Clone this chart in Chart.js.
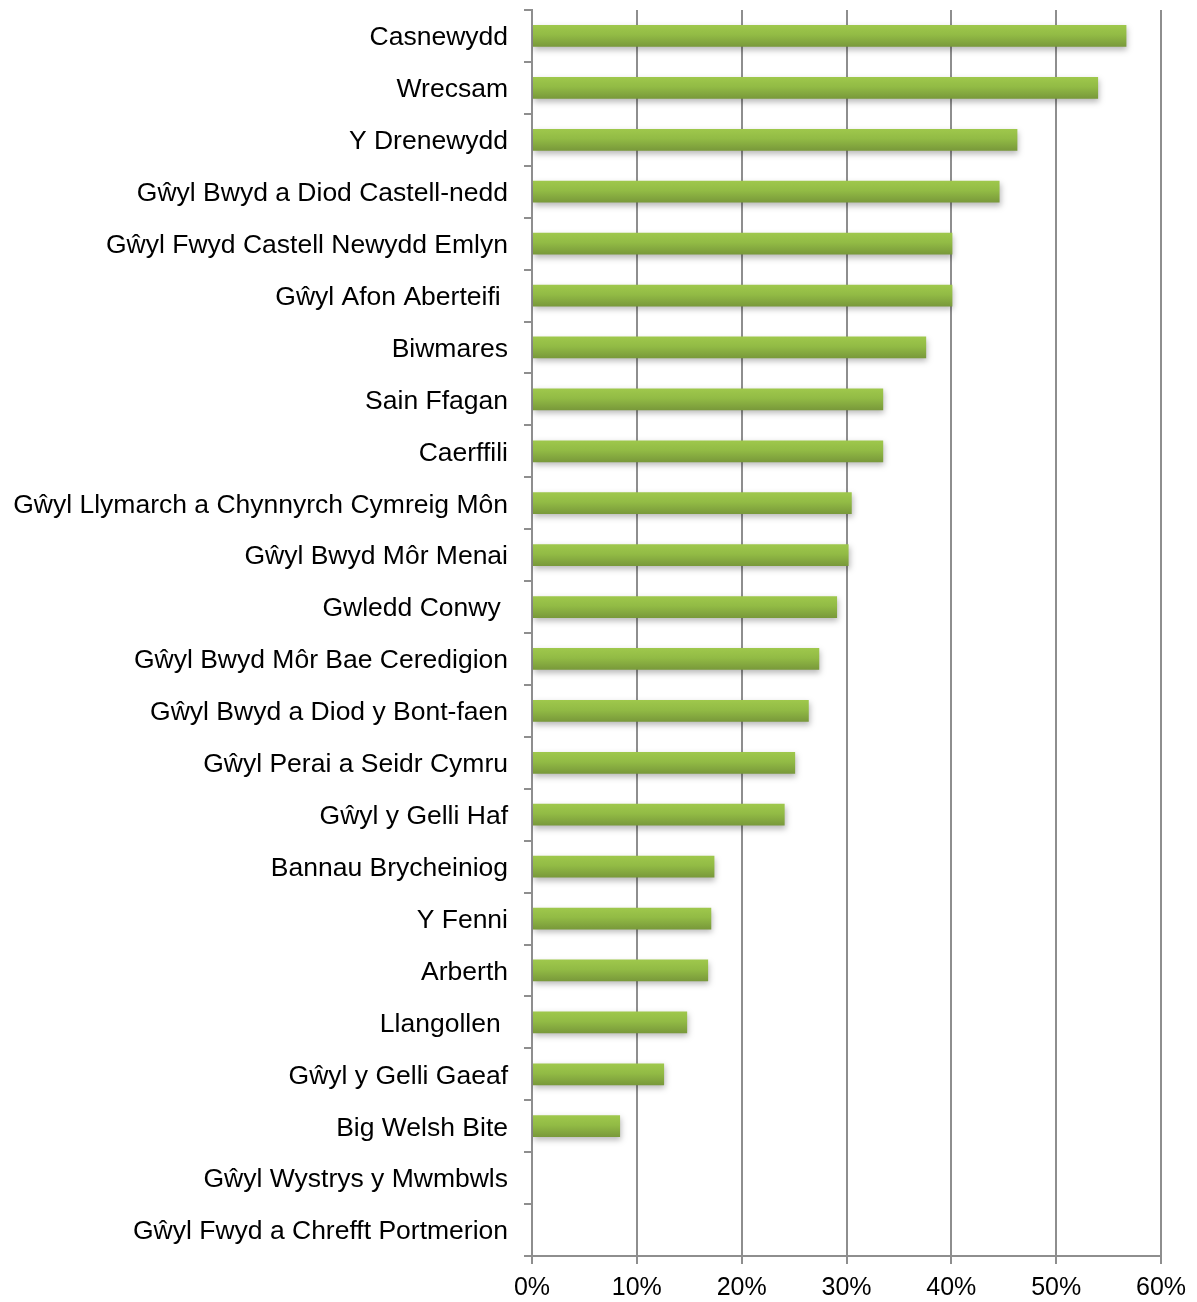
<!DOCTYPE html>
<html>
<head>
<meta charset="utf-8">
<script src="https://cdn.jsdelivr.net/npm/chart.js@4"></script>
<style>
html,body{margin:0;padding:0;background:#fff;}
#wrap{width:1197px;height:1302px;position:relative;}
</style>
</head>
<body>
<div id="wrap"><canvas id="c" width="1197" height="1302"></canvas></div>
<script>
const categories = [
  "Casnewydd",
  "Wrecsam",
  "Y Drenewydd",
  "Gŵyl Bwyd a Diod Castell-nedd",
  "Gŵyl Fwyd Castell Newydd Emlyn",
  "Gŵyl Afon Aberteifi ",
  "Biwmares",
  "Sain Ffagan",
  "Caerffili",
  "Gŵyl Llymarch a Chynnyrch Cymreig Môn",
  "Gŵyl Bwyd Môr Menai",
  "Gwledd Conwy ",
  "Gŵyl Bwyd Môr Bae Ceredigion",
  "Gŵyl Bwyd a Diod y Bont-faen",
  "Gŵyl Perai a Seidr Cymru",
  "Gŵyl y Gelli Haf",
  "Bannau Brycheiniog",
  "Y Fenni",
  "Arberth",
  "Llangollen ",
  "Gŵyl y Gelli Gaeaf",
  "Big Welsh Bite",
  "Gŵyl Wystrys y Mwmbwls",
  "Gŵyl Fwyd a Chrefft Portmerion"
];
const values = [56.7, 54.0, 46.3, 44.6, 40.1, 40.1, 37.6, 33.5, 33.5, 30.5, 30.2, 29.1, 27.4, 26.4, 25.1, 24.1, 17.4, 17.1, 16.8, 14.8, 12.6, 8.4, 0, 0];
const xTicks = [0, 10, 20, 30, 40, 50, 60];

const FONT = "'Liberation Sans', Arial, sans-serif";
const GRID = '#8e8e8e';

const shadowPlugin = {
  id: 'shadow',
  beforeDatasetsDraw(chart) {
    const ctx = chart.ctx;
    ctx.save();
    ctx.shadowColor = 'rgba(0,0,0,0.28)';
    ctx.shadowBlur = 6;
    ctx.shadowOffsetX = 1;
    ctx.shadowOffsetY = 3;
  },
  afterDatasetsDraw(chart) {
    chart.ctx.restore();
  }
};

new Chart(document.getElementById('c'), {
  type: 'bar',
  data: {
    labels: categories,
    datasets: [{
      data: values,
      barPercentage: 0.42,
      categoryPercentage: 1.0,
      borderWidth: 0,
      backgroundColor: (ctx) => {
        const chart = ctx.chart;
        const ys = chart.scales && chart.scales.y;
        if (!ys || ctx.dataIndex === undefined) return '#8db542';
        const c = ys.getPixelForValue(ctx.dataIndex);
        if (!isFinite(c)) return '#8db542';
        const h = 11;
        const g = chart.ctx.createLinearGradient(0, c - h, 0, c + h);
        g.addColorStop(0, '#9fc84c');
        g.addColorStop(0.45, '#92bb45');
        g.addColorStop(1, '#78983a');
        return g;
      }
    }]
  },
  options: {
    indexAxis: 'y',
    responsive: false,
    animation: false,
    devicePixelRatio: 1,
    layout: { padding: { left: 0, right: 36, top: 10, bottom: 0 } },
    plugins: { legend: { display: false }, tooltip: { enabled: false } },
    scales: {
      x: {
        min: 0,
        max: 60,
        afterBuildTicks: (scale) => { scale.ticks = xTicks.map(v => ({ value: v })); },
        ticks: {
          callback: (v) => v + '%',
          color: '#000',
          font: { family: FONT, size: 25 },
          padding: 9,
          maxRotation: 0
        },
        grid: {
          color: GRID,
          lineWidth: 2,
          tickLength: 8,
          drawTicks: true
        },
        border: { color: GRID, width: 2 },
        afterFit: (scale) => { scale.height = 46; scale.paddingLeft = 0; scale.paddingRight = 0; }
      },
      y: {
        offset: true,
        ticks: {
          color: '#000',
          font: { family: FONT, size: 26.5 },
          padding: 16,
          labelOffset: 2,
          autoSkip: false
        },
        grid: {
          offset: true,
          drawOnChartArea: false,
          color: GRID,
          lineWidth: 2,
          tickLength: 8
        },
        border: { color: GRID, width: 2 },
        afterFit: (scale) => { scale.width = 532; scale.paddingTop = 0; scale.paddingBottom = 0; }
      }
    }
  },
  plugins: [shadowPlugin]
});
</script>
</body>
</html>
